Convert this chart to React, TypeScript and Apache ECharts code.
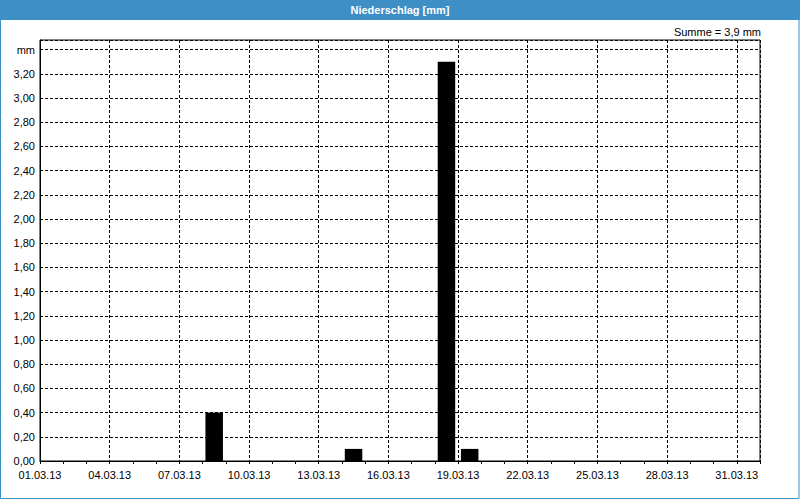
import React, { useEffect, useRef } from "react";
import * as echarts from "echarts";

// Daily precipitation for March 2013 (mm), index 0 = 01.03.13
const dayValues: number[] = [
  0, 0, 0, 0, 0, 0, 0, 0.4, 0, 0,
  0, 0, 0, 0.1, 0, 0, 0, 3.3, 0.1, 0,
  0, 0, 0, 0, 0, 0, 0, 0, 0, 0,
  0,
];
const monthSuffix = ".03.13";
const titleText = "Niederschlag [mm]";
const sumText = "Summe = 3,9 mm";
const yUnit = "mm";

const FONT = "'Liberation Sans', Arial, sans-serif";

export default function App() {
  const ref = useRef<HTMLDivElement>(null);
  useEffect(() => {
    if (!ref.current) return;
    const chart = echarts.init(ref.current, undefined, { renderer: "svg" });
    const barData = dayValues.map((v, i) => [i + 0.5, v]);
    chart.setOption({
      animation: false,
      backgroundColor: "#ffffff",
      textStyle: { fontFamily: FONT },
      grid: {
        left: 40,
        top: 40,
        right: 40,
        bottom: 39,
        show: true,
        borderColor: "#000",
        borderWidth: 1,
        backgroundColor: "transparent",
      },
      xAxis: [
        {
          type: "value",
          min: 0,
          max: 31,
          interval: 3,
          axisLine: { show: true, lineStyle: { color: "#000", width: 1 } },
          axisTick: { show: true, length: 3, lineStyle: { color: "#000" } },
          axisLabel: {
            color: "#000",
            fontSize: 11,
            fontFamily: FONT,
            margin: 8,
            showMaxLabel: false,
            formatter: (v: number) => {
              if (v > 30.5) return "";
              const d = Math.round(v) + 1;
              return (d < 10 ? "0" + d : "" + d) + monthSuffix;
            },
          },
          splitLine: {
            show: true,
            lineStyle: { color: "#000", type: [3, 2], width: 1 },
          },
        },
        {
          type: "value",
          min: 0,
          max: 31,
          interval: 1,
          position: "bottom",
          axisLine: { show: false },
          axisTick: { show: true, length: 3, lineStyle: { color: "#000" } },
          axisLabel: { show: false },
          splitLine: { show: false },
        },
      ],
      yAxis: {
        type: "value",
        min: 0,
        max: 3.48,
        interval: 0.2,
        axisLine: { show: true, lineStyle: { color: "#000", width: 1 } },
        axisTick: { show: false },
        axisLabel: {
          color: "#000",
          fontSize: 11,
          fontFamily: FONT,
          margin: 5,
          showMaxLabel: false,
          formatter: (v: number) => {
            if (Math.abs(v - 3.4) < 1e-6) return yUnit;
            if (v > 3.41) return "";
            return v.toFixed(2).replace(".", ",");
          },
        },
        splitLine: {
          show: true,
          lineStyle: { color: "#000", type: [3, 2], width: 1 },
        },
      },
      series: [
        {
          type: "bar",
          xAxisIndex: 0,
          data: barData,
          barWidth: 17.5,
          itemStyle: { color: "#000" },
        },
      ],
      graphic: [
        {
          type: "rect",
          shape: { x: 0.5, y: 0.5, width: 798.5, height: 498 },
          style: { fill: "none", stroke: "#3d8fc6", lineWidth: 1 },
          z: 10,
        },
        {
          type: "rect",
          shape: { x: 0, y: 0, width: 800, height: 20 },
          style: { fill: "#3d8fc6" },
          z: 11,
        },
        {
          type: "text",
          x: 400,
          y: 10,
          style: {
            text: titleText,
            fill: "#fff",
            font: `bold 11px ${FONT}`,
            textAlign: "center",
            textVerticalAlign: "middle",
          },
          z: 12,
        },
        {
          type: "text",
          x: 761,
          y: 32,
          style: {
            text: sumText,
            fill: "#000",
            font: `11px ${FONT}`,
            textAlign: "right",
            textVerticalAlign: "middle",
          },
          z: 12,
        },
      ],
    });
    return () => chart.dispose();
  }, []);
  return (
    <div
      ref={ref}
      style={{ position: "fixed", left: 0, top: 0, width: 800, height: 500 }}
    />
  );
}
